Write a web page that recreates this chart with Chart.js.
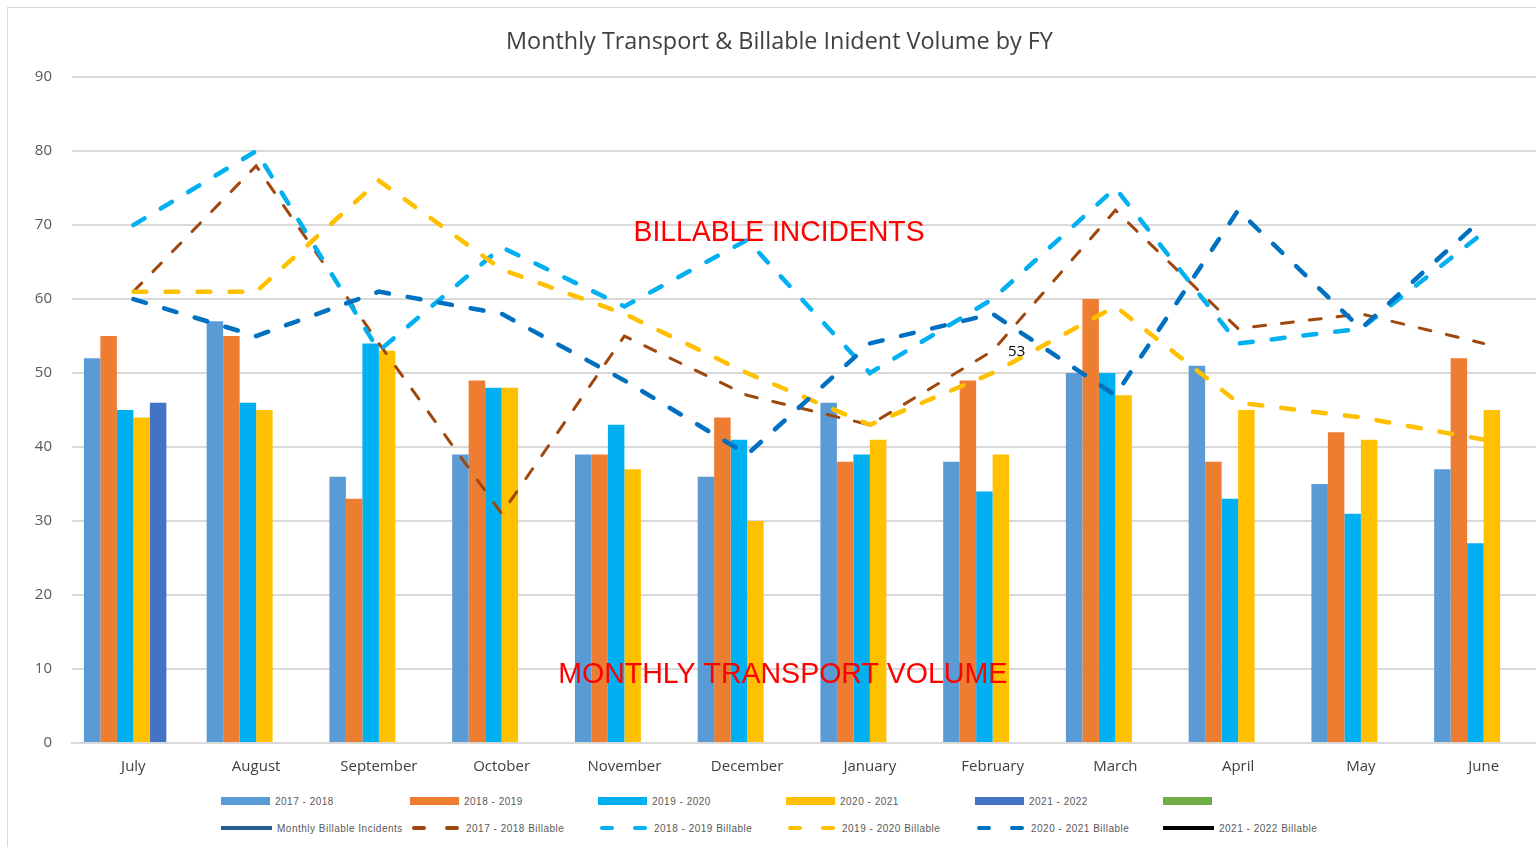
<!DOCTYPE html>
<html lang="en">
  <head>
    <meta charset="UTF-8" />
    <title>Monthly Transport & Billable Incident Volume by FY</title>
    <script src="https://cdn.jsdelivr.net/npm/chart.js@4.4.1/dist/chart.umd.min.js"></script>
    <style>
      body { margin: 0; background: #fff; overflow: hidden; }
      .wrap { position: relative; width: 1536px; height: 847px; overflow: hidden; }
      .frame { position: absolute; left: 7px; top: 7px; width: 1600px; height: 900px; border: 1px solid #d9d9d9; }
      canvas { position: absolute; left: 0; top: 0; }
      .legend { position: absolute; left: 0; top: 0; font-family: "Liberation Sans", Arial, sans-serif; font-size: 10px; letter-spacing: 0.5px; color: #595959; }
      .item { position: absolute; display: flex; align-items: center; white-space: nowrap; }
      .item svg { margin-right: 5px; }
    </style>
  </head>
  <body>
    <div class="wrap">
      <div class="frame"></div>
      <canvas id="chart" width="1560" height="786"></canvas>
      <div class="legend" id="legend"></div>
    </div>

    <script>
      const months = ["July", "August", "September", "October", "November", "December",
        "January", "February", "March", "April", "May", "June"];

      // monthly transport volume (bars)
      const vol1718 = [52, 57, 36, 39, 39, 36, 46, 38, 50, 51, 35, 37];
      const vol1819 = [55, 55, 33, 49, 39, 44, 38, 49, 60, 38, 42, 52];
      const vol1920 = [45, 46, 54, 48, 43, 41, 39, 34, 50, 33, 31, 27];
      const vol2021 = [44, 45, 53, 48, 37, 30, 41, 39, 47, 45, 41, 45];
      const vol2122 = [46, null, null, null, null, null, null, null, null, null, null, null];
      const volBlank = [null, null, null, null, null, null, null, null, null, null, null, null];

      // billable incidents (lines)
      const monthlyBillable = [null, null, null, null, null, null, null, null, null, null, null, null];
      const bill1718 = [61, 78, 54, 31, 55, 47, 43, 53, 72, 56, 58, 54];
      const bill1819 = [70, 80, 53, 67, 59, 68, 50, 60, 75, 54, 56, 69];
      const bill1920 = [61, 61, 76, 64, 58, 50, 43, 50, 59, 46, 44, 41];
      const bill2021 = [60, 55, 61, 58, 49, 39, 54, 58, 47, 72, 56, 71];
      const bill2122 = [null, null, null, null, null, null, null, null, null, null, null, null];

      const yTicks = [0, 10, 20, 30, 40, 50, 60, 70, 80, 90];

      function bar(label, data, color) {
        return { type: "bar", label, data, backgroundColor: color, borderWidth: 0, order: 10, legendType: "box" };
      }
      function line(label, data, color, width, dash, order) {
        return {
          type: "line", label, data, borderColor: color, backgroundColor: color,
          borderWidth: width, borderDash: dash, borderCapStyle: dash.length ? "round" : "butt",
          pointRadius: 0, tension: 0, fill: false, order, legendType: "line",
        };
      }

      const datasets = [
        bar("2017 - 2018", vol1718, "#5b9bd5"),
        bar("2018 - 2019", vol1819, "#ed7d31"),
        bar("2019 - 2020", vol1920, "#00b0f0"),
        bar("2020 - 2021", vol2021, "#ffc000"),
        bar("2021 - 2022", vol2122, "#4472c4"),
        bar("", volBlank, "#70ad47"),
        line("Monthly Billable Incidents", monthlyBillable, "#255e91", 4, [], 5),
        line("2017 - 2018 Billable", bill1718, "#9e480e", 3, [12, 16], 4),
        line("2018 - 2019 Billable", bill1819, "#00b0f0", 4.5, [13, 19], 3),
        line("2019 - 2020 Billable", bill1920, "#ffc000", 4.5, [13, 19], 2),
        line("2020 - 2021 Billable", bill2021, "#0070c0", 4.5, [13, 19], 1),
        line("2021 - 2022 Billable", bill2122, "#000000", 4, [], 0),
      ];

      // red notes and the single data label
      const notes = {
        id: "notes",
        afterDatasetsDraw(chart) {
          const { ctx, scales: { x, y } } = chart;
          ctx.save();
          ctx.fillStyle = "#ff0000";
          ctx.textAlign = "center";
          ctx.textBaseline = "middle";
          ctx.font = "30px 'Liberation Sans', Arial, sans-serif";
          ctx.fillText("BILLABLE INCIDENTS", x.getPixelForValue(5.26), y.getPixelForValue(68.9), 291);
          ctx.fillText("MONTHLY TRANSPORT VOLUME", x.getPixelForValue(5.29), y.getPixelForValue(9.2), 449);
          ctx.fillStyle = "#000";
          ctx.font = "15px 'Open Sans', sans-serif";
          ctx.fillText(String(bill1718[7]), x.getPixelForValue(7) + 24, y.getPixelForValue(bill1718[7]) + 1);
          ctx.restore();
        },
      };

      const ctx = document.getElementById("chart").getContext("2d");
      new Chart(ctx, {
        data: { labels: months, datasets },
        plugins: [notes],
        options: {
          responsive: false,
          animation: false,
          layout: { padding: { left: 14, right: 15, top: 0, bottom: 0 } },
          datasets: { bar: { barPercentage: 1, categoryPercentage: 0.806 } },
          plugins: {
            legend: { display: false },
            tooltip: { enabled: false },
            title: {
              display: true,
              text: "Monthly Transport & Billable Inident Volume by FY",
              color: "#404040",
              font: { family: "'Open Sans', sans-serif", size: 23.4, weight: "normal", lineHeight: 1.2 },
              padding: { top: 28, bottom: 21 },
            },
          },
          scales: {
            x: {
              offset: true,
              grid: { display: false, drawTicks: false },
              border: { color: "#d9d9d9", width: 2 },
              ticks: { color: "#404040", padding: 15, font: { family: "'Open Sans', sans-serif", size: 15 } },
              afterFit(scale) { scale.height = 43; },
            },
            y: {
              min: 0,
              max: 90,
              afterBuildTicks(scale) { scale.ticks = yTicks.map((v) => ({ value: v })); },
              grid: { color: "#d9d9d9", lineWidth: 2, drawTicks: false },
              border: { display: false },
              ticks: { color: "#595959", padding: 20, font: { family: "'Open Sans', sans-serif", size: 15 } },
              afterFit(scale) { scale.width = 58; },
            },
          },
        },
      });

      // legend: two rows, six columns
      const legendEl = document.getElementById("legend");
      const colX = [221, 410, 598, 786, 975, 1163];
      const rowY = [801, 828];
      datasets.forEach((ds, i) => {
        const item = document.createElement("div");
        item.className = "item";
        item.style.left = colX[i % 6] + "px";
        item.style.top = rowY[Math.floor(i / 6)] - 7 + "px";
        item.style.height = "14px";
        let swatch;
        if (ds.legendType === "box") {
          swatch = `<svg width="49" height="8"><rect width="49" height="8" fill="${ds.backgroundColor}"/></svg>`;
        } else if (ds.borderDash.length) {
          swatch = `<svg width="51" height="8"><line x1="4" y1="4" x2="14" y2="4" stroke="${ds.borderColor}" stroke-width="4" stroke-linecap="round"/><line x1="37" y1="4" x2="47" y2="4" stroke="${ds.borderColor}" stroke-width="4" stroke-linecap="round"/></svg>`;
        } else {
          swatch = `<svg width="51" height="8"><line x1="1" y1="4" x2="50" y2="4" stroke="${ds.borderColor}" stroke-width="4" stroke-linecap="round"/></svg>`;
        }
        item.innerHTML = swatch + `<span>${ds.label}</span>`;
        legendEl.appendChild(item);
      });
    </script>
  </body>
</html>
